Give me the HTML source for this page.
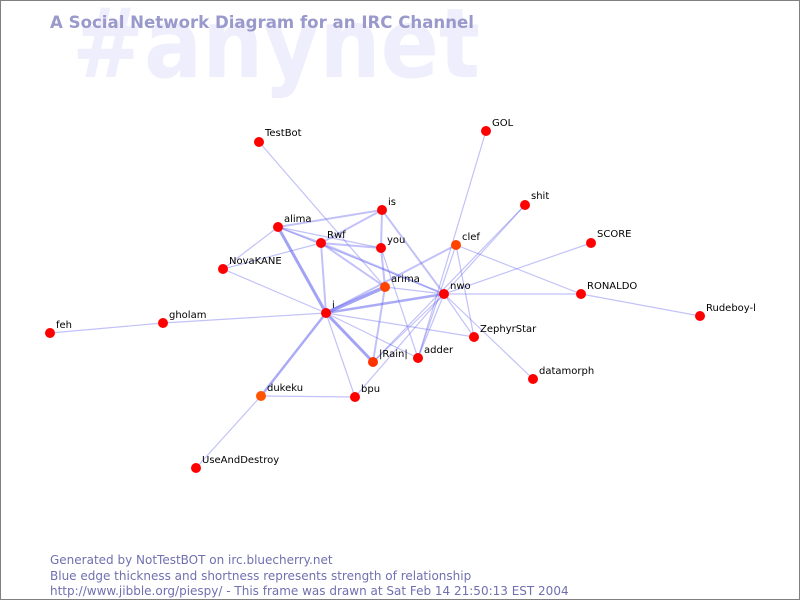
<!DOCTYPE html>
<html><head><meta charset="utf-8"><style>
body{margin:0;background:#fff}
svg{display:block}
text{font-family:"DejaVu Sans","Liberation Sans",sans-serif}
</style></head><body>
<svg width="800" height="600" viewBox="0 0 800 600">
<rect x="0.5" y="0.5" width="799" height="599" fill="#fff" stroke="#808080"/>
<text x="72" y="77" font-size="96" font-weight="bold" fill="#eeeefc" textLength="408" lengthAdjust="spacingAndGlyphs">#anynet</text>
<text x="50" y="28" font-size="17" font-weight="bold" fill="#9999cc" textLength="424" lengthAdjust="spacingAndGlyphs">A Social Network Diagram for an IRC Channel</text>
<g stroke="#6666ee" stroke-opacity="0.4" stroke-width="1.2" fill="none">
<line x1="259" y1="142" x2="385" y2="287"/>
<line x1="486" y1="131" x2="418" y2="358"/>
<line x1="525" y1="205" x2="444" y2="294"/>
<line x1="525" y1="205" x2="373" y2="362"/>
<line x1="591" y1="243" x2="444" y2="294"/>
<line x1="581" y1="294" x2="444" y2="294"/>
<line x1="581" y1="294" x2="456" y2="245"/>
<line x1="700" y1="316" x2="581" y2="294"/>
<line x1="456" y1="245" x2="474" y2="337"/>
<line x1="456" y1="245" x2="418" y2="358"/>
<line x1="382" y1="210" x2="278" y2="227" stroke-width="2"/>
<line x1="382" y1="210" x2="321" y2="243" stroke-width="2"/>
<line x1="382" y1="210" x2="381" y2="248" stroke-width="2"/>
<line x1="382" y1="210" x2="444" y2="294" stroke-width="2"/>
<line x1="278" y1="227" x2="321" y2="243" stroke-width="2"/>
<line x1="278" y1="227" x2="381" y2="248"/>
<line x1="278" y1="227" x2="223" y2="269"/>
<line x1="278" y1="227" x2="444" y2="294"/>
<line x1="321" y1="243" x2="223" y2="269"/>
<line x1="321" y1="243" x2="385" y2="287" stroke-width="2"/>
<line x1="321" y1="243" x2="444" y2="294" stroke-width="2"/>
<line x1="321" y1="243" x2="381" y2="248" stroke-width="2"/>
<line x1="321" y1="243" x2="326" y2="313" stroke-width="2"/>
<line x1="381" y1="248" x2="385" y2="287" stroke-width="2"/>
<line x1="381" y1="248" x2="418" y2="358"/>
<line x1="385" y1="287" x2="373" y2="362" stroke-width="2"/>
<line x1="385" y1="287" x2="444" y2="294"/>
<line x1="326" y1="313" x2="278" y2="227" stroke-width="3" stroke-opacity="0.6"/>
<line x1="326" y1="313" x2="385" y2="287" stroke-width="3.5" stroke-opacity="0.6"/>
<line x1="326" y1="313" x2="456" y2="245" stroke-width="2"/>
<line x1="326" y1="313" x2="444" y2="294" stroke-width="2.5" stroke-opacity="0.55"/>
<line x1="326" y1="313" x2="223" y2="269"/>
<line x1="326" y1="313" x2="163" y2="323"/>
<line x1="326" y1="313" x2="373" y2="362" stroke-width="3" stroke-opacity="0.6"/>
<line x1="326" y1="313" x2="261" y2="396" stroke-width="2.5" stroke-opacity="0.55"/>
<line x1="326" y1="313" x2="355" y2="397"/>
<line x1="326" y1="313" x2="474" y2="337"/>
<line x1="326" y1="313" x2="418" y2="358"/>
<line x1="444" y1="294" x2="355" y2="397"/>
<line x1="444" y1="294" x2="418" y2="358"/>
<line x1="444" y1="294" x2="373" y2="362"/>
<line x1="444" y1="294" x2="533" y2="379"/>
<line x1="444" y1="294" x2="474" y2="337"/>
<line x1="163" y1="323" x2="50" y2="333"/>
<line x1="261" y1="396" x2="355" y2="397"/>
<line x1="261" y1="396" x2="196" y2="468"/>
</g>
<g fill="#ff0000">
<circle cx="259" cy="142" r="5"/><circle cx="486" cy="131" r="5"/><circle cx="525" cy="205" r="5"/>
<circle cx="278" cy="227" r="5"/><circle cx="382" cy="210" r="5"/><circle cx="321" cy="243" r="5"/>
<circle cx="381" cy="248" r="5"/><circle cx="456" cy="245" r="5" fill="#ff4400"/><circle cx="591" cy="243" r="5"/>
<circle cx="223" cy="269" r="5"/><circle cx="385" cy="287" r="5" fill="#ff4400"/><circle cx="444" cy="294" r="5"/>
<circle cx="581" cy="294" r="5"/><circle cx="700" cy="316" r="5"/><circle cx="50" cy="333" r="5"/>
<circle cx="163" cy="323" r="5"/><circle cx="326" cy="313" r="5"/><circle cx="474" cy="337" r="5"/>
<circle cx="418" cy="358" r="5"/><circle cx="373" cy="362" r="5" fill="#ff3300"/><circle cx="533" cy="379" r="5"/>
<circle cx="261" cy="396" r="5" fill="#ff5500"/><circle cx="355" cy="397" r="5"/><circle cx="196" cy="468" r="5"/>
</g>
<g font-size="10" fill="#000">
<text x="265" y="136">TestBot</text><text x="492" y="126">GOL</text><text x="531" y="199">shit</text>
<text x="284" y="222">alima</text><text x="388" y="205">is</text><text x="327" y="238">Rwf</text>
<text x="387" y="243">you</text><text x="462" y="240">clef</text><text x="597" y="237">SCORE</text>
<text x="229" y="264">NovaKANE</text><text x="391" y="282">arima</text><text x="450" y="289">nwo</text>
<text x="587" y="289">RONALDO</text><text x="706" y="311">Rudeboy-l</text><text x="56" y="328">feh</text>
<text x="169" y="318">gholam</text><text x="332" y="308">i</text><text x="480" y="332">ZephyrStar</text>
<text x="424" y="353">adder</text><text x="379" y="357">|Rain|</text><text x="539" y="374">datamorph</text>
<text x="267" y="391">dukeku</text><text x="361" y="392">bpu</text><text x="202" y="463">UseAndDestroy</text>
</g>
<g font-size="12" fill="#7070b0">
<text x="50" y="564">Generated by NotTestBOT on irc.bluecherry.net</text>
<text x="50" y="580">Blue edge thickness and shortness represents strength of relationship</text>
<text x="50" y="595">http://www.jibble.org/piespy/ - This frame was drawn at Sat Feb 14 21:50:13 EST 2004</text>
</g>
</svg>
</body></html>
